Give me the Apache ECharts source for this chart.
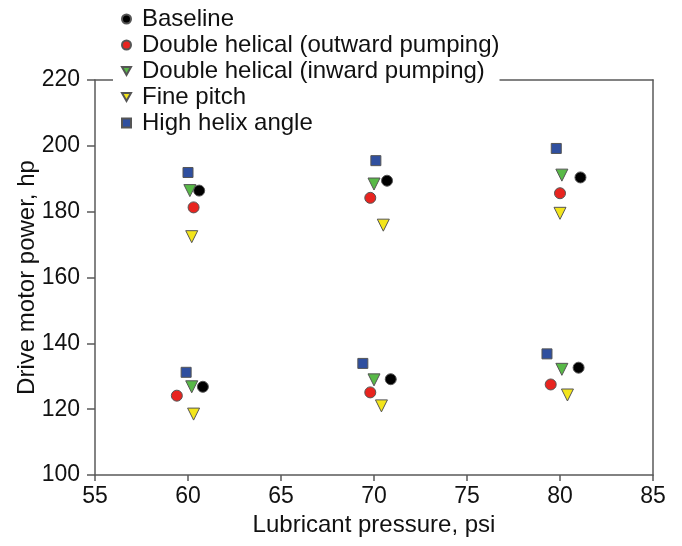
<!DOCTYPE html>
<html>
<head>
<meta charset="utf-8">
<script src="https://cdn.jsdelivr.net/npm/echarts@6/dist/echarts.min.js"></script>
<style>
    html, body { margin: 0; padding: 0; background: #fff; }
    #chart { width: 682px; height: 546px; }
</style>
</head>
<body>
<div id="chart"></div>
<script>
// [pressure, power] pairs, two load cases per pressure
var baseline = [[60.6, 186.4], [60.8, 126.8], [70.7, 189.4], [70.9, 129.1], [81.1, 190.4], [81.0, 132.6]];
var outwardPumping = [[60.3, 181.3], [59.4, 124.1], [69.8, 184.2], [69.8, 125.1], [80.0, 185.6], [79.5, 127.5]];
var inwardPumping = [[60.1, 186.4], [60.2, 126.8], [70.0, 188.4], [70.0, 128.9], [80.1, 191.1], [80.1, 132.1]];
var finePitch = [[60.2, 172.4], [60.3, 118.5], [70.5, 175.9], [70.4, 121.0], [80.0, 179.5], [80.4, 124.3]];
var highHelix = [[60.0, 191.9], [59.9, 131.2], [70.1, 195.5], [69.4, 133.9], [79.8, 199.2], [79.3, 136.8]];

var seriesNames = [
    'Baseline',
    'Double helical (outward pumping)',
    'Double helical (inward pumping)',
    'Fine pitch',
    'High helix angle'
];

var FONT = "'Liberation Sans', Arial, sans-serif";
var FS = 24;      // legend and axis names
var TICK_FS = 23; // tick labels
var axisColor = '#5a5a5a';
var downTriangle = 'path://M0,0 L10,0 L5,9 Z';

function makeSeries(name, data, symbol, color, size, rotate) {
    return {
        name: name,
        type: 'scatter',
        data: data,
        symbol: symbol,
        symbolSize: size,
        symbolRotate: rotate || 0,
        itemStyle: {
            color: color,
            borderColor: '#555',
            borderWidth: 1,
            opacity: 1
        },
        z: 3
    };
}

var myChart = echarts.init(document.getElementById('chart'));
myChart.setOption({
    animation: false,
    backgroundColor: '#fff',
    textStyle: { fontFamily: FONT },
    grid: { left: 95, right: 29, top: 80, bottom: 71 },
    legend: {
        orient: 'vertical',
        left: 113,
        top: 3,
        padding: [4, 0, 4, 8],
        backgroundColor: '#fff',
        itemWidth: 9,
        itemHeight: 9,
        itemGap: 2,
        z: 10,
        textStyle: { fontSize: FS, color: '#111', fontFamily: FONT, padding: [0, 0, 0, 6] },
        data: [
            { name: seriesNames[0], icon: 'circle' },
            { name: seriesNames[1], icon: 'circle' },
            { name: seriesNames[2], icon: downTriangle },
            { name: seriesNames[3], icon: downTriangle },
            { name: seriesNames[4], icon: 'rect' }
        ]
    },
    xAxis: [
        {
            type: 'value',
            min: 55,
            max: 85,
            interval: 5,
            name: 'Lubricant pressure, psi',
            nameLocation: 'middle',
            nameMoveOverlap: false,
            nameGap: 38,
            nameTextStyle: { fontSize: FS, color: '#111', fontFamily: FONT },
            axisLine: { show: true, onZero: false, lineStyle: { color: axisColor, width: 1.5 } },
            axisTick: { show: true, inside: false, length: 6, lineStyle: { color: axisColor, width: 1.5 } },
            axisLabel: { fontSize: TICK_FS, color: '#111', margin: 10, fontFamily: FONT },
            splitLine: { show: false }
        },
        {
            type: 'value',
            position: 'top',
            min: 55,
            max: 85,
            axisLine: { show: true, onZero: false, lineStyle: { color: axisColor, width: 1.5 } },
            axisTick: { show: false },
            axisLabel: { show: false },
            splitLine: { show: false }
        }
    ],
    yAxis: [
        {
            type: 'value',
            min: 100,
            max: 220,
            interval: 20,
            name: 'Drive motor power, hp',
            nameLocation: 'middle',
            nameMoveOverlap: false,
            nameGap: 56,
            nameTextStyle: { fontSize: FS, color: '#111', fontFamily: FONT },
            axisLine: { show: true, onZero: false, lineStyle: { color: axisColor, width: 1.5 } },
            axisTick: { show: true, inside: false, length: 8, lineStyle: { color: axisColor, width: 1.5 } },
            axisLabel: { fontSize: TICK_FS, color: '#111', margin: 15, fontFamily: FONT },
            splitLine: { show: false }
        },
        {
            type: 'value',
            position: 'right',
            min: 100,
            max: 220,
            axisLine: { show: true, onZero: false, lineStyle: { color: axisColor, width: 1.5 } },
            axisTick: { show: false },
            axisLabel: { show: false },
            splitLine: { show: false }
        }
    ],
    series: [
        makeSeries(seriesNames[0], baseline, 'circle', '#000000', 11),
        makeSeries(seriesNames[1], outwardPumping, 'circle', '#e8241f', 11),
        makeSeries(seriesNames[2], inwardPumping, 'triangle', '#58b947', 12, 180),
        makeSeries(seriesNames[3], finePitch, 'triangle', '#f3e51b', 12, 180),
        makeSeries(seriesNames[4], highHelix, 'rect', '#2f4f9f', 10)
    ]
});
</script>
</body>
</html>
